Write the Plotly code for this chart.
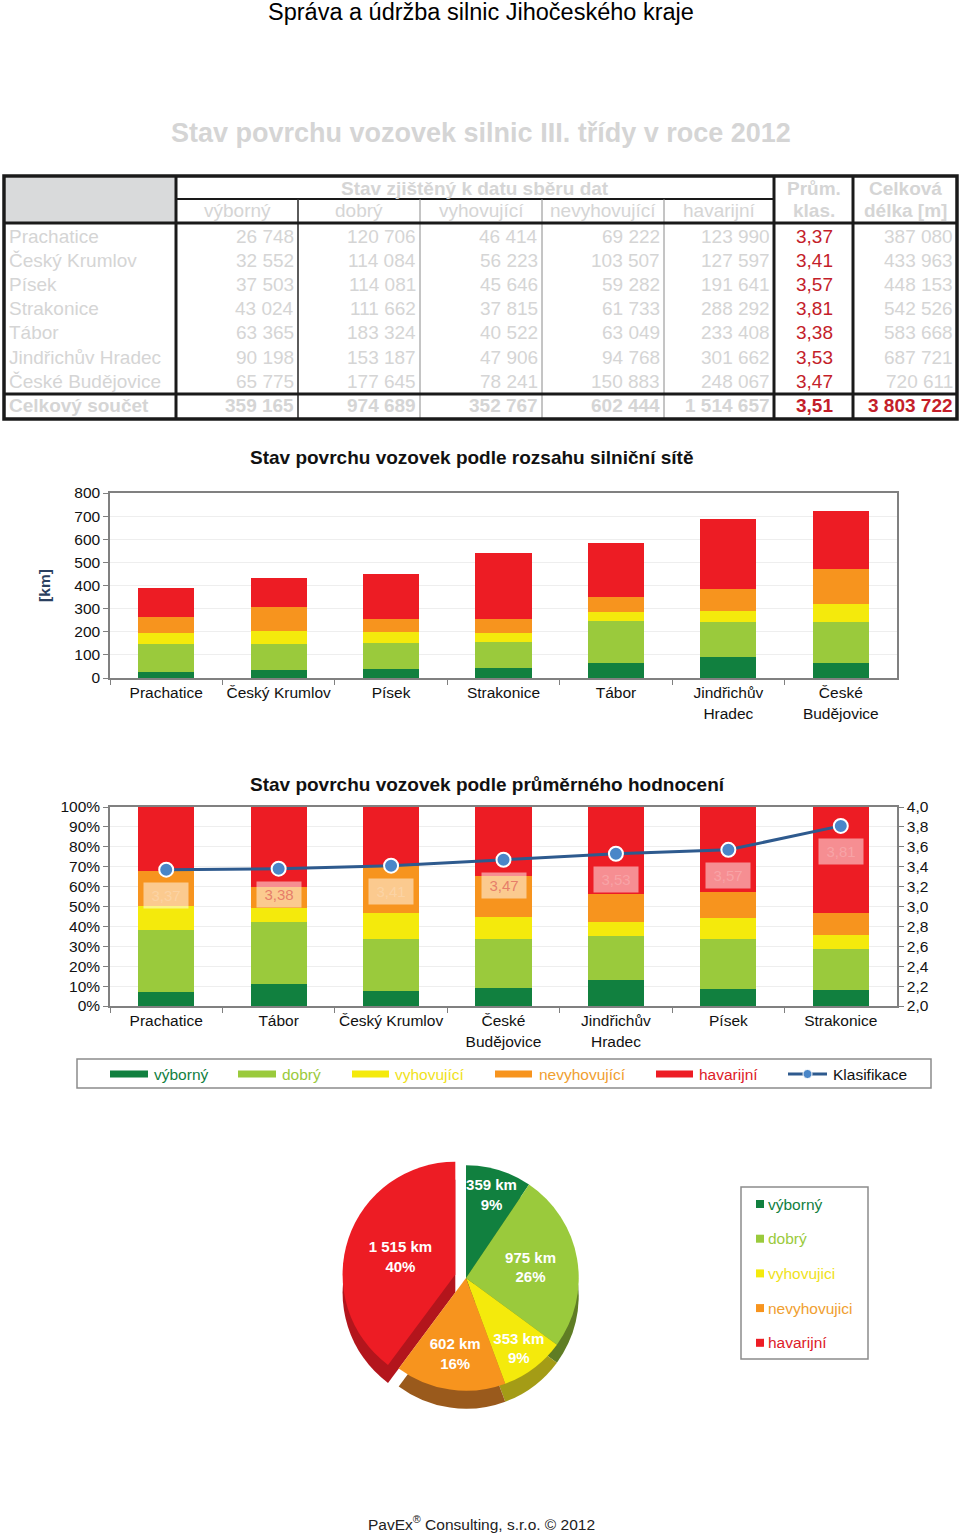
import plotly.graph_objects as go

# ---------------- data ----------------
districts = ["Prachatice", "Český Krumlov", "Písek", "Strakonice", "Tábor",
             "Jindřichův Hradec", "České Budějovice"]
district_ticks = ["Prachatice", "Český Krumlov", "Písek", "Strakonice", "Tábor",
                  "Jindřichův<br>Hradec", "České<br>Budějovice"]
vyborny = [26748, 32552, 37503, 43024, 63365, 90198, 65775]
dobry = [120706, 114084, 114081, 111662, 183324, 153187, 177645]
vyhovujici = [46414, 56223, 45646, 37815, 40522, 47906, 78241]
nevyhovujici = [69222, 103507, 59282, 61733, 63049, 94768, 150883]
havarijni = [123990, 127597, 191641, 288292, 233408, 301662, 248067]
klas = [3.37, 3.41, 3.57, 3.81, 3.38, 3.53, 3.47]
celkova = [387080, 433963, 448153, 542526, 583668, 687721, 720611]
total_klas = 3.51
categories = ["výborný", "dobrý", "vyhovující", "nevyhovující", "havarijní"]
pie_labels = ["výborný", "dobrý", "vyhovujici", "nevyhovujici", "havarijní"]
km_ticks = [0, 100, 200, 300, 400, 500, 600, 700, 800]
pct_ticks = [0, 10, 20, 30, 40, 50, 60, 70, 80, 90, 100]
pct_ticktext = ["0%", "10%", "20%", "30%", "40%", "50%", "60%", "70%", "80%", "90%", "100%"]
klas_ticks = [2.0, 2.2, 2.4, 2.6, 2.8, 3.0, 3.2, 3.4, 3.6, 3.8, 4.0]
visible_labels = ["Tábor", "České Budějovice"]

series = [vyborny, dobry, vyhovujici, nevyhovujici, havarijni]

# ---------------- styles ----------------
FONT = "Liberation Sans, Arial, sans-serif"
colors = ["#11803f", "#9aca3c", "#f4ea0c", "#f7941e", "#ed1c24"]
text_colors = ["#11803f", "#9aca3c", "#f0e21a", "#f0a030", "#dd2028"]
depth_colors = ["#0a5a2b", "#5f7d24", "#a49c16", "#9a5a1c", "#b3151c"]
GRAY_TXT = "#d5d5d5"
RED_TXT = "#c41e2a"
W, H = 960, 1536


def X(px):
    return px / W


def Y(py):
    return 1 - py / H


def fmt(v):
    return f"{v:,}".replace(",", " ")


def fmtd(v):
    return f"{v:.2f}".replace(".", ",")


annotations = []
shapes = []


def text(t, x, y, size, color="#000", xanchor="center", bold=False):
    annotations.append(dict(
        text=(f"<b>{t}</b>" if bold else t), x=X(x), y=Y(y), xref="paper", yref="paper",
        xanchor=xanchor, yanchor="middle", showarrow=False,
        font=dict(family=FONT, size=size, color=color)))


def line(x0, y0, x1, y1, width, color="#1a1a1a"):
    shapes.append(dict(type="line", xref="paper", yref="paper", x0=X(x0), y0=Y(y0),
                       x1=X(x1), y1=Y(y1), line=dict(color=color, width=width)))


def rect(x0, y0, x1, y1, fill, lc=None, lw=0):
    shapes.append(dict(type="rect", xref="paper", yref="paper", x0=X(x0), y0=Y(y0),
                       x1=X(x1), y1=Y(y1), fillcolor=fill,
                       line=dict(color=lc or fill, width=lw)))


# ---------------- titles ----------------
text("Správa a údržba silnic Jihočeského kraje", 481, 12, 23.5)
text("Stav povrchu vozovek silnic III. třídy v roce 2012", 481, 133, 27, GRAY_TXT, bold=True)

# ---------------- table ----------------
rect(6, 178, 176, 223, "#d9dadb")
line(176, 199, 774, 199, 2)
for xx in [420, 542, 664]:
    line(xx, 199, xx, 419, 1, "#8a8a8a")
line(298, 199, 298, 419, 1.6, "#333333")
line(4, 223, 957, 223, 3)
line(4, 394, 957, 394, 3)
for xx in [176, 774, 853]:
    line(xx, 176, xx, 419, 3)
shapes.append(dict(type="rect", xref="paper", yref="paper", x0=X(4), y0=Y(176), x1=X(957),
                   y1=Y(419), line=dict(color="#1a1a1a", width=3.5)))

text("Stav zjištěný k datu sběru dat", 475, 188, 19, GRAY_TXT, bold=True)
sub_centers = [237, 359, 481, 603, 719]
for c, cx in zip(categories, sub_centers):
    text(c, cx, 211, 19, GRAY_TXT)
text("Prům.", 814, 188, 19, GRAY_TXT, bold=True)
text("klas.", 814, 211, 19, GRAY_TXT, bold=True)
text("Celková", 905, 188, 19, GRAY_TXT, bold=True)
text("délka [m]", 905, 211, 19, GRAY_TXT, bold=True)

col_right = [296, 418, 540, 662, 772]
for i, d in enumerate(districts):
    yy = 236 + i * 24.2
    text(d, 7, yy, 19, GRAY_TXT, xanchor="left")
    for s, xr in zip(series, col_right):
        text(fmt(s[i]), xr, yy, 19, GRAY_TXT, xanchor="right")
    text(fmtd(klas[i]), 814, yy, 19, RED_TXT)
    text(fmt(celkova[i]), 955, yy, 19, GRAY_TXT, xanchor="right")
yy = 405
text("Celkový součet", 7, yy, 19, GRAY_TXT, xanchor="left", bold=True)
for s, xr in zip(series, col_right):
    text(fmt(sum(s)), xr, yy, 19, GRAY_TXT, xanchor="right", bold=True)
text(fmtd(total_klas), 814, yy, 19, RED_TXT, bold=True)
text(fmt(sum(celkova)), 955, yy, 19, RED_TXT, xanchor="right", bold=True)

# ---------------- chart 1 ----------------
fig = go.Figure()
for name, s, col in zip(categories, series, colors):
    fig.add_trace(go.Bar(x=district_ticks, y=[v / 1000 for v in s], name=name,
                         marker=dict(color=col, line=dict(width=0)),
                         xaxis="x", yaxis="y", showlegend=False))
text("Stav povrchu vozovek podle rozsahu silniční sítě", 471, 458, 19, "#111", bold=True)

# ---------------- chart 2 ----------------
order = sorted(range(len(districts)), key=lambda i: klas[i])
x2 = [district_ticks[i] for i in order]
for name, s, col in zip(categories, series, colors):
    fig.add_trace(go.Bar(x=x2, y=[s[i] / celkova[i] * 100 for i in order], name=name,
                         marker=dict(color=col, line=dict(width=0)),
                         xaxis="x2", yaxis="y2", showlegend=False))
fig.add_trace(go.Scatter(x=x2, y=[klas[i] for i in order], name="Klasifikace",
                         mode="lines+markers", xaxis="x2", yaxis="y3",
                         line=dict(color="#2e5a8e", width=3),
                         marker=dict(size=14, color="#4a86c8", line=dict(color="white", width=2)),
                         showlegend=False))
for i in order:
    vis = districts[i] in visible_labels
    annotations.append(dict(
        x=district_ticks[i], y=klas[i], xref="x2", yref="y3", yshift=-26,
        text=fmtd(klas[i]), showarrow=False, width=42, height=23,
        bgcolor="rgba(255,255,255,0.5)",
        font=dict(family=FONT, size=15,
                  color="rgba(225,105,95,0.8)" if vis else "rgba(255,255,255,0.2)")))
text("Stav povrchu vozovek podle průměrného hodnocení", 487, 784, 19, "#111", bold=True)

# legend of chart 2 (drawn)
rect(77, 1059, 931, 1088, "rgba(0,0,0,0)", "#8c8c8c", 1.5)
leg = [(110, 148, 152), (238, 276, 280), (352, 389, 393), (495, 532, 537), (656, 693, 697)]
for (a, b, t), c, tc, name in zip(leg, colors, text_colors, categories):
    rect(a, 1070.5, b, 1077.5, c)
    text(name, t, 1074, 15.5, tc, xanchor="left")
line(788, 1074, 827, 1074, 3, "#2e5a8e")
shapes.append(dict(type="circle", xref="paper", yref="paper", x0=X(803), x1=X(812),
                   y0=Y(1069.5), y1=Y(1078.5), fillcolor="#4a86c8",
                   line=dict(color="white", width=1)))
text("Klasifikace", 831, 1074, 15.5, "#111", xanchor="left")

# ---------------- pie ----------------
pie_values = [sum(s) for s in series]
pie_km = [fmt(round(v / 1000)) for v in pie_values]
pull = [0, 0, 0, 0, 0.1]
cx, cy, half, depth = 466, 1278, 124, 18
fig.add_trace(go.Pie(values=pie_values, labels=pie_labels, sort=False, direction="clockwise",
                     rotation=0, pull=pull, marker=dict(colors=depth_colors, line=dict(width=0)),
                     textinfo="none", hoverinfo="skip", showlegend=False,
                     domain=dict(x=[X(cx - half), X(cx + half)],
                                 y=[Y(cy + depth + half), Y(cy + depth - half)])))
fig.add_trace(go.Pie(values=pie_values, labels=pie_labels, sort=False, direction="clockwise",
                     rotation=0, pull=pull, marker=dict(colors=colors, line=dict(width=0)),
                     customdata=pie_km, texttemplate="<b>%{customdata} km<br>%{percent:.0%}</b>",
                     textposition="inside", insidetextorientation="horizontal",
                     textfont=dict(family=FONT, size=15, color="white"), showlegend=False,
                     domain=dict(x=[X(cx - half), X(cx + half)],
                                 y=[Y(cy + half), Y(cy - half)])))

# pie legend (drawn)
rect(741, 1187, 868, 1359, "rgba(0,0,0,0)", "#8c8c8c", 1.5)
for k, (lab, c, tc) in enumerate(zip(pie_labels, colors, text_colors)):
    yy = 1204 + k * 34.7
    rect(756, yy - 4, 764, yy + 4, c)
    text(lab, 766, yy, 15.5, tc, xanchor="left")

# footer
text("PavEx<sup>®</sup> Consulting, s.r.o. © 2012", 481, 1523, 15.5, "#222")

# ---------------- layout ----------------
axis_common = dict(showline=True, linecolor="#808080", linewidth=1.5, mirror=True,
                   ticks="outside", tickcolor="#808080", ticklen=5, automargin=False,
                   tickfont=dict(family=FONT, size=15.5, color="#111"))
fig.update_layout(
    width=W, height=H, autosize=False, margin=dict(l=0, r=0, t=0, b=0, pad=0),
    paper_bgcolor="white", plot_bgcolor="white", separators=", ",
    barmode="stack", bargap=0.5, showlegend=False,
    uniformtext=dict(minsize=15, mode="show"),
    font=dict(family=FONT),
    xaxis=dict(domain=[X(110), X(897)], anchor="y", tickson="boundaries", tickangle=0,
               **axis_common),
    yaxis=dict(domain=[Y(678), Y(493)], range=[0, 800], tickvals=km_ticks, anchor="x",
               showgrid=True, gridcolor="#eeeeee",
               title=dict(text="<b>[km]</b>", standoff=20, font=dict(family=FONT, size=15.5)),
               **axis_common),
    xaxis2=dict(domain=[X(110), X(897)], anchor="y2", tickson="boundaries", tickangle=0,
                **axis_common),
    yaxis2=dict(domain=[Y(1006), Y(807)], range=[0, 100], tickvals=pct_ticks,
                ticktext=pct_ticktext, anchor="x2", showgrid=True, gridcolor="#eeeeee",
                **axis_common),
    yaxis3=dict(overlaying="y2", side="right", anchor="x2", range=[2, 4], tickvals=klas_ticks,
                tickformat=".1f", showgrid=False, showline=True, linecolor="#808080",
                linewidth=1.5, ticks="outside", tickcolor="#808080", ticklen=5,
                automargin=False, tickfont=dict(family=FONT, size=15.5, color="#111")),
    shapes=shapes, annotations=annotations,
)
fig.write_html("out.html", config={"displayModeBar": False},
               post_script="document.body.style.margin='0px';"
                           "document.documentElement.style.overflow='hidden';")
